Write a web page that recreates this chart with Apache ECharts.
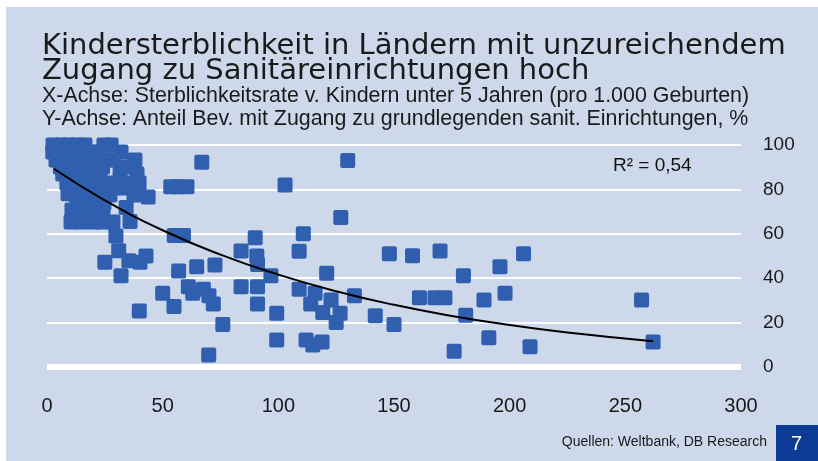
<!DOCTYPE html>
<html><head><meta charset="utf-8">
<script src="https://cdn.jsdelivr.net/npm/echarts@6/dist/echarts.min.js"></script>
<style>html,body{margin:0;padding:0;background:#fff}#c{width:818px;height:461px}</style>
</head><body><div id="c"></div>
<script>
// Scatter: child mortality (x) vs. sanitation access (y)
const mortality = [
 2.6,6.1,9.5,13.0,16.4,24.6,27.7,
 2.5,6.0,9.5,13.0,16.5,20.0,22.5,32.0,
 3.9,8.0,11.5,15.0,18.5,21.5,25.5,29.0,38.0,
 5.8,9.5,13.0,16.5,20.0,24.0,35.0,
 6.8,10.8,15.1,19.0,22.9,31.6,38.9,
 8.6,13.0,17.7,22.0,25.5,30.7,35.9,39.8,
 13.8,19.5,24.2,29.0,33.7,38.9,
 9.1,12.5,16.4,21.6,27.2,37.6,43.7,
 13.4,19.5,24.6,
 10.8,15.9,21.2,24.2,34.2,
 10.4,15.1,20.3,24.2,28.5,35.9,
 29.8,31.0,25.0,35.4,40.2,42.8,32.0,39.9,56.9,50.0,54.9,64.7,72.6,61.1,63.0,67.6,70.0,71.9,76.0,69.9,
 90.0,83.9,90.7,91.0,83.9,91.0,91.0,99.3,99.3,
 55.0,59.0,53.5,57.0,60.5,66.9,
 96.8,102.9,127.0,110.8,109.0,109.0,115.9,120.9,114.0,122.8,119.2,126.7,125.0,112.0,114.9,118.9,
 132.9,141.9,150.0,148.0,158.0,169.9,161.0,167.7,172.0,180.0,181.0,176.0,188.9,191.0,195.8,198.0,206.0,208.8,
 257.0,262.0,130.0
];
const sanitation = [
 100,100,100,100,100,100,100,
 96.8,96.8,96.8,96.8,96.8,96.8,96.8,96.8,
 93.2,93.2,93.2,93.2,93.2,93.2,93.2,93.2,93.2,
 90.1,90.1,90.1,90.1,90.1,90.1,90.1,
 86.9,86.9,86.9,86.9,86.9,86.9,86.9,
 82.9,82.9,82.9,82.9,82.9,82.9,82.9,82.9,
 80.6,80.6,80.6,80.6,80.6,80.6,
 78.0,77.5,77.5,77.5,77.5,77.5,76.6,
 73.9,73.9,73.9,
 70.7,70.7,70.7,70.7,71.8,
 65.3,65.3,65.3,65.3,65.3,65.5,
 59.0,52.4,47.2,47.9,47.2,50.0,41.1,25.2,43.2,33.2,27.2,45.2,46.0,36.2,33.2,35.0,32.1,28.4,19.2,5.4,
 58.2,52.3,50.0,46.2,36.2,36.2,28.4,24.2,12.2,
 59.2,59.2,81.2,81.2,81.2,92.2,
 41.1,82.0,67.3,60.0,52.1,35.0,33.2,42.2,28.4,30.2,24.5,24.2,20.0,12.2,9.9,11.3,
 32.1,23.1,19.2,51.0,50.1,52.3,31.2,31.2,31.2,41.1,23.3,7.1,30.2,13.2,45.2,33.2,51.0,9.1,
 30.2,11.3,93.0
];
// Exponential trend line
const trendX = [3, 25, 50, 75, 100, 125, 150, 175, 200, 225, 262];
const trendY = [89.3, 75.1, 61.6, 50.6, 41.6, 34.1, 28.0, 23.0, 18.9, 15.5, 11.6];

const titleLines = ['Kindersterblichkeit in Ländern mit unzureichendem', 'Zugang zu Sanitäreinrichtungen hoch'];
const subtitleLines = ['X-Achse: Sterblichkeitsrate v. Kindern unter 5 Jahren (pro 1.000 Geburten)',
  'Y-Achse: Anteil Bev. mit Zugang zu grundlegenden sanit. Einrichtungen, %'];
const rSquared = 'R² = 0,54';
const sourceText = 'Quellen: Weltbank, DB Research';
const pageNo = '7';

const BG = '#cdd8ea';
const MARK = '#2f5fae';
const sans = '"Liberation Sans", Arial, sans-serif';
const squareSymbol = 'path://M2,0 L13,0 Q15,0 15,2 L15,13 Q15,15 13,15 L2,15 Q0,15 0,13 L0,2 Q0,0 2,0 Z';

const scatterData = mortality.map((x, i) => [x, sanitation[i]]);
const trendData = trendX.map((x, i) => [x, trendY[i]]);

const chart = echarts.init(document.getElementById('c'), null, {renderer: 'canvas'});
chart.setOption({
  backgroundColor: '#ffffff',
  animation: false,
  grid: {left: 47, right: 77, top: 145, bottom: 94, containLabel: false},
  xAxis: {
    type: 'value', min: 0, max: 300, interval: 50,
    axisLine: {show: true, onZero: false, lineStyle: {color: '#ffffff', width: 6, cap: 'butt'}},
    axisTick: {show: false},
    splitLine: {show: false},
    axisLabel: {margin: 29, color: '#1a1a1a', fontSize: 20, fontFamily: sans}
  },
  yAxis: {
    type: 'value', position: 'right', min: 0, max: 100, interval: 20,
    axisLine: {show: false}, axisTick: {show: false},
    splitLine: {show: true, lineStyle: {color: '#ffffff', width: 2}},
    axisLabel: {margin: 22, color: '#1a1a1a', fontSize: 19, fontFamily: sans}
  },
  graphic: [
    {type: 'rect', z: -10, silent: true, shape: {x: 6, y: 7, width: 812, height: 454}, style: {fill: BG}},
    {type: 'text', left: 42, top: 32, style: {text: titleLines[0], font: '29px "DejaVu Sans", sans-serif', fill: '#1a1a1a'}},
    {type: 'text', left: 42, top: 57, style: {text: titleLines[1], font: '29px "DejaVu Sans", sans-serif', fill: '#1a1a1a'}},
    {type: 'text', left: 42, top: 86, style: {text: subtitleLines[0], font: '21.4px ' + sans, fill: '#1a1a1a'}},
    {type: 'text', left: 42, top: 109, style: {text: subtitleLines[1], font: '21.4px ' + sans, fill: '#1a1a1a'}},
    {type: 'text', left: 613, top: 156, style: {text: rSquared, font: '19px ' + sans, fill: '#111'}},
    {type: 'text', right: 51, top: 435, style: {text: sourceText, font: '14px ' + sans, fill: '#1a1a1a'}},
    {type: 'rect', shape: {x: 776, y: 425, width: 42, height: 36}, style: {fill: '#0b3b94'}},
    {type: 'text', left: 791, top: 434, style: {text: pageNo, font: '20px ' + sans, fill: '#ffffff'}}
  ],
  series: [
    {type: 'scatter', data: scatterData, symbol: squareSymbol, symbolSize: 15, clip: false,
     itemStyle: {color: MARK, borderWidth: 0, opacity: 1}, z: 2},
    {type: 'line', data: trendData, smooth: true, showSymbol: false, symbol: 'none', clip: false,
     lineStyle: {color: '#000000', width: 2}, z: 5}
  ]
});
</script></body></html>
